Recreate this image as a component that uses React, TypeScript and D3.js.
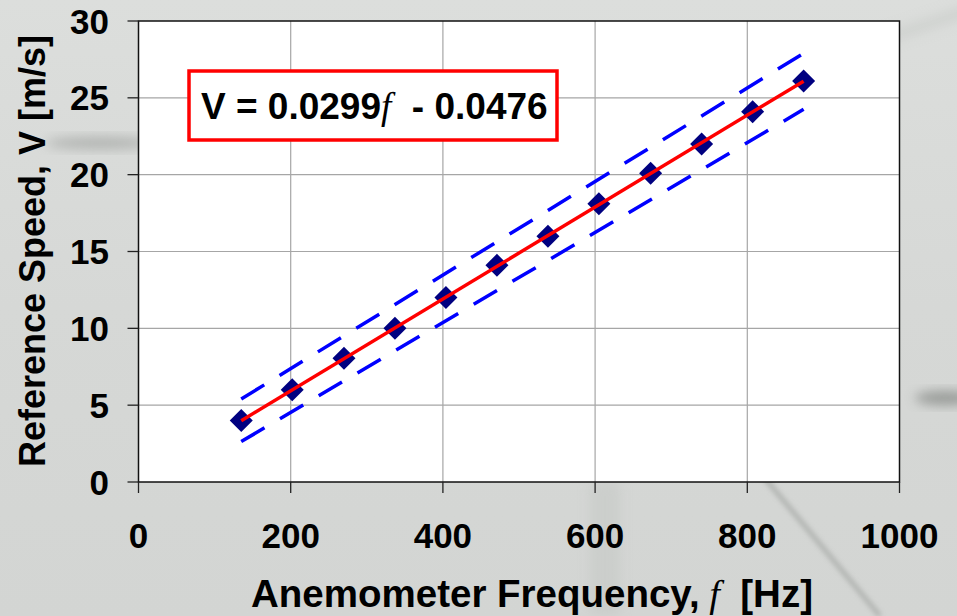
import React from "react";
import { scaleLinear, line } from "d3";

// calibration points
const freqHz = [135, 202, 270, 337, 404, 471, 538, 605, 673, 740, 807, 874];
const speedMs = [4.0, 6.0, 8.05, 10.0, 12.0, 14.1, 16.0, 18.1, 20.1, 22.0, 24.1, 26.1];

// linear fit
const slope = 0.0299;
const intercept = -0.0476;

// dashed bands (endpoints)
const bandFreq = [135, 874];
const upperBand = [5.4, 27.9];
const lowerBand = [2.63, 24.25];

const xTicks = [0, 200, 400, 600, 800, 1000];
const yTicks = [0, 5, 10, 15, 20, 25, 30];

const W = 957;
const H = 616;
const plot = { left: 138.5, right: 899.5, top: 21, bottom: 482 };

const font = "Arial, 'Liberation Sans', Helvetica, sans-serif";
const serif = "'Times New Roman', 'Liberation Serif', serif";

export default function App() {
  const x = scaleLinear().domain([0, 1000]).range([plot.left, plot.right]);
  const y = scaleLinear().domain([0, 30]).range([plot.bottom, plot.top]);

  const path = line<[number, number]>()
    .x(d => x(d[0]))
    .y(d => y(d[1]));

  const fitLine = path([
    [freqHz[0], slope * freqHz[0] + intercept],
    [freqHz[freqHz.length - 1], slope * freqHz[freqHz.length - 1] + intercept],
  ]);
  const upper = path(bandFreq.map((f, i) => [f, upperBand[i]] as [number, number]));
  const lower = path(bandFreq.map((f, i) => [f, lowerBand[i]] as [number, number]));

  const r = 11.5;

  return (
    <svg
      width={W}
      height={H}
      style={{ position: "absolute", left: 0, top: 0 }}
      fontFamily={font}
    >
      <defs>
        <linearGradient id="bg" x1="0" y1="0" x2="0" y2="1">
          <stop offset="0" stopColor="#dcdedc" />
          <stop offset="0.5" stopColor="#d6d8d6" />
          <stop offset="1" stopColor="#d3d5d3" />
        </linearGradient>
        <filter id="blur" x="-50%" y="-50%" width="200%" height="200%">
          <feGaussianBlur stdDeviation="6" />
        </filter>
        <filter id="blur2" x="-50%" y="-50%" width="200%" height="200%">
          <feGaussianBlur stdDeviation="2.5" />
        </filter>
      </defs>

      {/* photo-like background */}
      <rect width={W} height={H} fill="url(#bg)" />
      <ellipse cx={100} cy={143} rx={55} ry={6} fill="#8e918e" opacity={0.55} filter="url(#blur)" />
      <ellipse cx={945} cy={398} rx={30} ry={7} fill="#7d807d" opacity={0.7} filter="url(#blur)" />
      <rect x={590} y={482} width={30} height={134} fill="#c6c9c6" opacity={0.6} filter="url(#blur)" />
      <line x1={758} y1={470} x2={880} y2={616} stroke="#9a9d9a" strokeWidth={5} opacity={0.6} filter="url(#blur2)" />
      <line x1={1000} y1={0} x2={880} y2={40} stroke="#c4c7c4" strokeWidth={12} opacity={0.5} filter="url(#blur)" />

      {/* plot area */}
      <rect
        x={plot.left}
        y={plot.top}
        width={plot.right - plot.left}
        height={plot.bottom - plot.top}
        fill="#ffffff"
      />

      {/* grid */}
      {xTicks.slice(1, -1).map(t => (
        <line key={`gx${t}`} x1={x(t)} x2={x(t)} y1={plot.top} y2={plot.bottom} stroke="#a6a6a6" strokeWidth={1.2} />
      ))}
      {yTicks.slice(1, -1).map(t => (
        <line key={`gy${t}`} x1={plot.left} x2={plot.right} y1={y(t)} y2={y(t)} stroke="#a6a6a6" strokeWidth={1.2} />
      ))}

      <rect
        x={plot.left}
        y={plot.top}
        width={plot.right - plot.left}
        height={plot.bottom - plot.top}
        fill="none"
        stroke="#111"
        strokeWidth={1.5}
      />

      {/* ticks + labels */}
      {yTicks.map(t => (
        <g key={`ty${t}`}>
          <line x1={plot.left - 11} x2={plot.left} y1={y(t)} y2={y(t)} stroke="#222" strokeWidth={1.3} />
          <text x={109} y={y(t) + 12.5} textAnchor="end" fontSize={35} fontWeight="bold" fill="#000">
            {t}
          </text>
        </g>
      ))}
      {xTicks.map(t => (
        <g key={`tx${t}`}>
          <line x1={x(t)} x2={x(t)} y1={plot.bottom} y2={plot.bottom + 11} stroke="#222" strokeWidth={1.3} />
          <text x={x(t)} y={548} textAnchor="middle" fontSize={35} fontWeight="bold" fill="#000">
            {t}
          </text>
        </g>
      ))}

      {/* bands, fit, points */}
      <path d={upper ?? ""} fill="none" stroke="#0000ff" strokeWidth={3.5} strokeDasharray="27 18" />
      <path d={lower ?? ""} fill="none" stroke="#0000ff" strokeWidth={3.5} strokeDasharray="27 18" />

      {freqHz.map((f, i) => (
        <path
          key={`p${i}`}
          d={`M${x(f)},${y(speedMs[i]) - r}L${x(f) + r},${y(speedMs[i])}L${x(f)},${y(speedMs[i]) + r}L${x(f) - r},${y(speedMs[i])}Z`}
          fill="#000080"
        />
      ))}

      <path d={fitLine ?? ""} fill="none" stroke="#ff0000" strokeWidth={3.5} />

      {/* equation box */}
      <rect x={189} y={71} width={368} height={69} fill="#ffffff" stroke="#ff0000" strokeWidth={3.5} />
      <text x={201} y={119} fontSize={37} fontWeight="bold" fill="#000" style={{ whiteSpace: "pre" }}>
        {"V = 0.0299"}
        <tspan fontFamily={serif} fontStyle="italic" fontWeight="normal">f</tspan>
        {"  - 0.0476"}
      </text>

      {/* axis titles */}
      <text x={532} y={607} textAnchor="middle" fontSize={38.5} fontWeight="bold" fill="#000" style={{ whiteSpace: "pre" }}>
        {"Anemometer Frequency,"}
        <tspan fontFamily={serif} fontStyle="italic" fontWeight="normal">{" f "}</tspan>
        {" [Hz]"}
      </text>
      <text
        transform={`translate(45, 251) rotate(-90)`}
        textAnchor="middle"
        fontSize={36}
        fontWeight="bold"
        fill="#000"
      >
        Reference Speed, V [m/s]
      </text>
    </svg>
  );
}
